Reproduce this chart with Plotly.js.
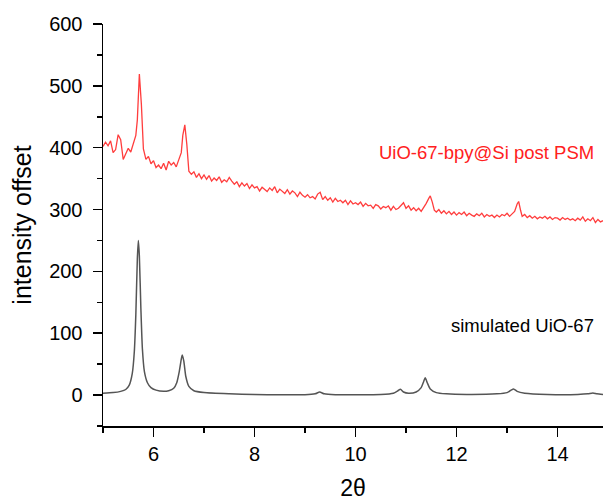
<!DOCTYPE html>
<html>
<head>
<meta charset="utf-8">
<script src="https://cdn.plot.ly/plotly-3.0.1.min.js"></script>
<style>html,body{margin:0;padding:0;background:#fff;}#chart{width:603px;height:504px;}</style>
</head>
<body>
<div id="chart"></div>
<script>
// Experimental pattern: UiO-67-bpy@Si post PSM (offset)
const expX = [5.00,5.05,5.10,5.15,5.20,5.25,5.30,5.35,5.40,5.45,5.50,5.55,5.60,5.65,5.68,5.72,5.76,5.80,5.85,5.90,5.95,
6.00,6.05,6.10,6.15,6.20,6.25,6.30,6.35,6.40,6.45,6.50,6.55,6.58,6.62,6.66,6.70,6.75,6.80,6.85,6.90,6.95,
7.00,7.05,7.10,7.15,7.20,7.25,7.30,7.35,7.40,7.45,7.50,7.55,7.60,7.65,7.70,7.75,7.80,7.85,7.90,7.95,
8.00,8.05,8.10,8.15,8.20,8.25,8.30,8.35,8.40,8.45,8.50,8.55,8.60,8.65,8.70,8.75,8.80,8.85,8.90,8.95,
9.00,9.05,9.10,9.15,9.20,9.25,9.30,9.35,9.40,9.45,9.50,9.55,9.60,9.65,9.70,9.75,9.80,9.85,9.90,9.95,
10.00,10.05,10.10,10.15,10.20,10.25,10.30,10.35,10.40,10.45,10.50,10.55,10.60,10.65,10.70,10.75,10.80,10.85,10.90,10.95,
11.00,11.05,11.10,11.15,11.20,11.25,11.30,11.35,11.40,11.45,11.48,11.52,11.56,11.60,11.65,11.70,11.75,11.80,11.85,11.90,11.95,
12.00,12.05,12.10,12.15,12.20,12.25,12.30,12.35,12.40,12.45,12.50,12.55,12.60,12.65,12.70,12.75,12.80,12.85,12.90,12.95,
13.00,13.05,13.10,13.15,13.20,13.23,13.27,13.30,13.35,13.40,13.45,13.50,13.55,13.60,13.65,13.70,13.75,13.80,13.85,13.90,13.95,
14.00,14.05,14.10,14.15,14.20,14.25,14.30,14.35,14.40,14.45,14.50,14.55,14.60,14.65,14.70,14.75,14.80,14.85,14.90];
const expY = [402,409,403,411,392,397,421,413,381,389,399,393,405,420,445,519,470,398,381,386,374,
379,368,372,366,375,364,378,372,376,369,381,392,420,437,405,362,357,361,352,358,350,
356,349,355,346,351,347,353,344,348,345,352,346,341,345,337,343,338,342,334,340,
335,337,330,336,332,329,335,331,337,327,333,329,326,332,325,330,327,321,328,323,
320,324,319,321,317,325,328,316,321,315,319,312,318,313,315,311,315,308,314,309,
311,308,312,305,310,306,307,302,308,306,301,305,303,306,299,305,300,302,307,311,
302,306,299,303,298,302,297,303,310,318,322,312,299,296,300,294,298,293,297,292,296,
291,295,292,296,290,294,291,289,293,290,294,288,292,289,291,287,291,288,292,290,
294,289,293,297,309,313,298,289,292,287,290,286,289,285,288,286,289,285,288,284,287,
286,283,287,284,286,283,285,282,286,283,288,281,285,282,287,279,284,280,282];

// Simulated pattern: UiO-67
const simX = [5.00,5.20,5.35,5.45,5.52,5.58,5.62,5.65,5.68,5.70,5.72,5.75,5.78,5.82,5.88,5.95,6.05,6.20,6.30,6.40,6.46,6.51,6.55,6.57,6.60,6.64,6.70,6.80,
7.00,7.50,8.00,8.50,9.00,9.20,9.29,9.38,9.60,10.00,10.50,10.75,10.84,10.89,10.95,11.05,11.20,11.30,11.35,11.38,11.42,11.48,11.60,11.80,
12.20,12.80,13.00,13.08,13.13,13.20,13.35,13.80,14.40,14.60,14.70,14.78,14.90];
const simY = [3,4,6,9,16,35,70,130,220,250,225,140,75,38,20,12,8,6,7,11,20,38,58,65,55,30,14,7,
4,2,1,0.5,0.5,2,5,2,0.5,0.5,1,3,7,9.5,5,3,5,12,22,28,20,10,4,2,
1,2,4,8,10,6,3,1,1,2,3.5,2,1];

const expLabel = "UiO-67-bpy@Si post PSM";
const simLabel = "simulated UiO-67";
const xTicks = [6,8,10,12,14];
const yTicks = [0,100,200,300,400,500,600];

const traces = [
  {x: simX, y: simY, type: 'scatter', mode: 'lines', line: {color: '#555555', width: 1.5, shape: 'spline', smoothing: 0.6}, hoverinfo: 'skip'},
  {x: expX, y: expY, type: 'scatter', mode: 'lines', line: {color: 'rgba(255,40,40,0.9)', width: 1.3}, hoverinfo: 'skip'}
];

const font = {family: 'Liberation Sans, Arial, sans-serif', color: '#000'};
const layout = {
  width: 603, height: 504,
  margin: {l: 103, r: 0, t: 24, b: 78},
  paper_bgcolor: '#fff', plot_bgcolor: '#fff',
  showlegend: false,
  font: font,
  xaxis: {
    range: [5, 14.9], tickvals: xTicks, ticktext: xTicks.map(String),
    ticks: 'outside', ticklen: 9, tickwidth: 1.5, tickcolor: '#000',
    minor: {dtick: 1, tick0: 5, ticks: 'outside', ticklen: 5, tickwidth: 1.5, tickcolor: '#000'},
    showline: true, linecolor: '#000', linewidth: 1.5, showgrid: false, zeroline: false,
    tickfont: {size: 20, family: font.family, color: '#000'},
    title: {text: '2θ', font: {size: 23, family: font.family, color: '#000'}, standoff: 16}
  },
  yaxis: {
    range: [-50, 600], tickvals: yTicks, ticktext: yTicks.map(String),
    ticks: 'outside', ticklen: 9, tickwidth: 1.5, tickcolor: '#000',
    minor: {dtick: 50, tick0: -50, ticks: 'outside', ticklen: 5, tickwidth: 1.5, tickcolor: '#000'},
    showline: true, linecolor: '#000', linewidth: 1.5, showgrid: false, zeroline: false,
    ticklabelstandoff: 6,
    tickfont: {size: 20, family: font.family, color: '#000'},
    title: {text: 'intensity offset', font: {size: 25, family: font.family, color: '#000'}, standoff: 10}
  },
  annotations: [
    {x: 14.77, y: 393, xref: 'x', yref: 'y', text: expLabel, showarrow: false, xanchor: 'right', yanchor: 'middle',
     font: {size: 18.5, family: font.family, color: '#ff2020'}},
    {x: 14.77, y: 112, xref: 'x', yref: 'y', text: simLabel, showarrow: false, xanchor: 'right', yanchor: 'middle',
     font: {size: 18.5, family: font.family, color: '#000'}}
  ]
};

Plotly.newPlot('chart', traces, layout, {displayModeBar: false, staticPlot: true});
</script>
</body>
</html>
